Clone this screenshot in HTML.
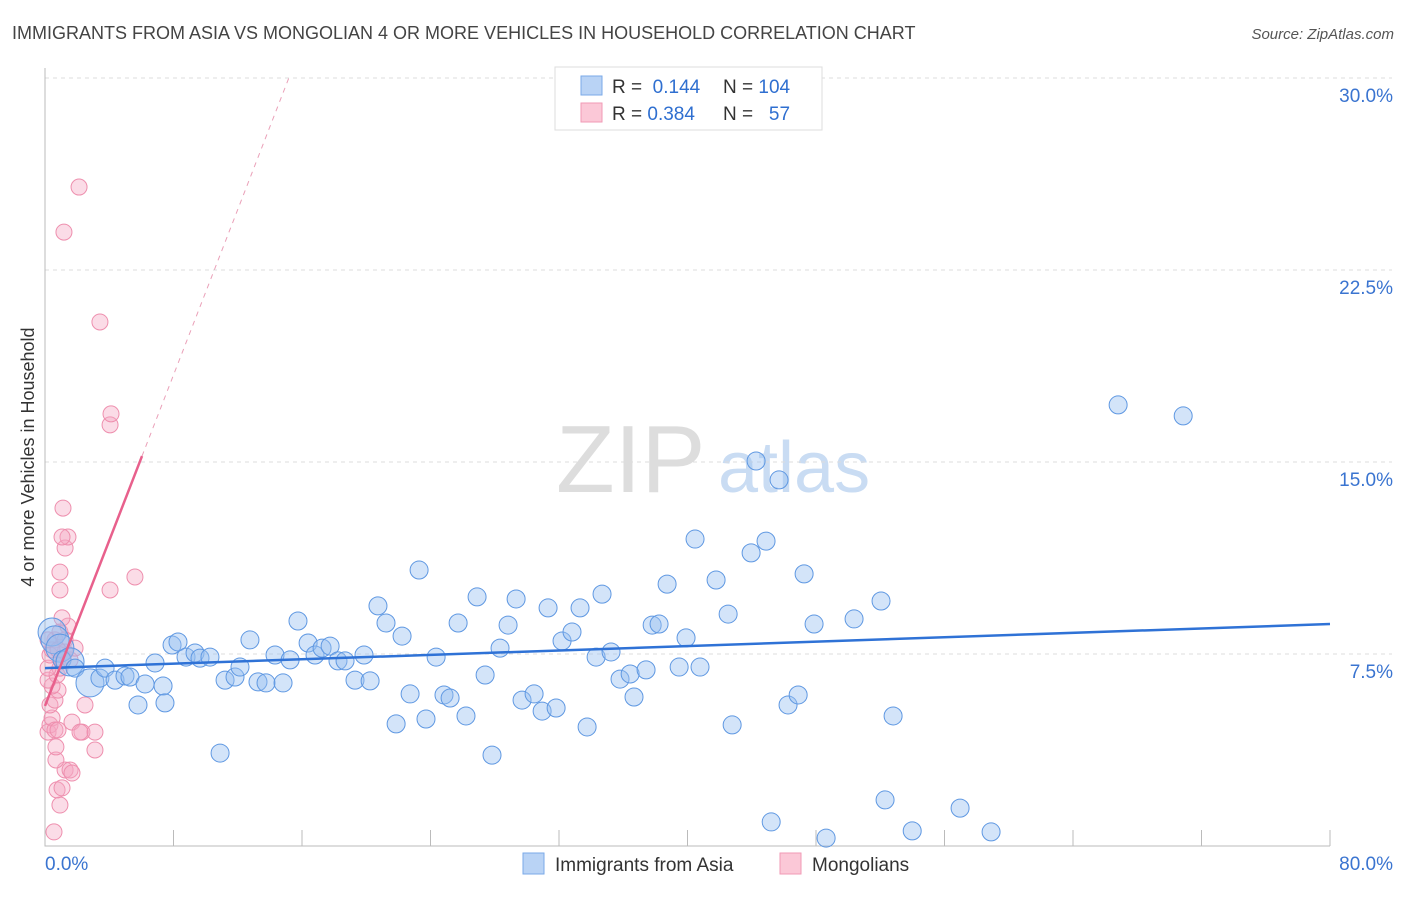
<!DOCTYPE html>
<html><head><meta charset="utf-8"><style>
body{margin:0;background:#fff;font-family:"Liberation Sans",sans-serif;}
svg text{font-family:"Liberation Sans",sans-serif;}
</style></head><body>
<svg id="c" width="1406" height="892">
<text x="12" y="39" font-size="18" fill="#444">IMMIGRANTS FROM ASIA VS MONGOLIAN 4 OR MORE VEHICLES IN HOUSEHOLD CORRELATION CHART</text>
<text x="1394" y="39" font-size="15" fill="#555" font-style="italic" text-anchor="end">Source: ZipAtlas.com</text>
<text transform="translate(34,457) rotate(-90)" font-size="18" fill="#333" text-anchor="middle">4 or more Vehicles in Household</text>
<text x="556" y="492" font-size="96" fill="#ddd" font-family="Liberation Serif">ZIP</text>
<text x="718" y="492" font-size="72" fill="#c9dcf3">atlas</text>
<g id="grid"></g><g id="pts"></g><g id="lines"></g>
<g>
<rect x="555" y="67" width="267" height="63" fill="#fff" stroke="#ddd"/>
<rect x="581" y="76" width="21" height="19" fill="#b9d3f5" stroke="#7aa9e8"/>
<rect x="581" y="103" width="21" height="19" fill="#fbc8d7" stroke="#f09ab6"/>
<text x="612" y="93" font-size="19" fill="#333">R = <tspan fill="#2f6fd0">&#160;0.144</tspan></text>
<text x="723" y="93" font-size="19" fill="#333">N = <tspan fill="#2f6fd0">104</tspan></text>
<text x="612" y="120" font-size="19" fill="#333">R = <tspan fill="#2f6fd0">0.384</tspan></text>
<text x="723" y="120" font-size="19" fill="#333">N = <tspan fill="#2f6fd0">&#160;&#160;57</tspan></text>
</g>
<g>
<rect x="523" y="853" width="21" height="21" fill="#b9d3f5" stroke="#7aa9e8"/>
<text x="555" y="871" font-size="19" fill="#333">Immigrants from Asia</text>
<rect x="780" y="853" width="21" height="21" fill="#fbc8d7" stroke="#f09ab6"/>
<text x="812" y="871" font-size="19" fill="#333">Mongolians</text>
</g>
<text x="45" y="870" font-size="19" fill="#3a74d0">0.0%</text>
<text x="1393" y="870" font-size="19" fill="#3a74d0" text-anchor="end">80.0%</text>
</svg>
<script>
const blueX=[0.44,0.62,0.93,1.06,1.56,1.87,2.80,3.42,3.74,4.36,4.98,5.29,6.23,6.85,7.35,7.47,7.91,8.28,8.78,9.34,9.65,10.27,11.21,11.83,12.14,12.76,13.26,13.76,14.32,14.82,15.26,15.75,16.38,16.81,17.25,17.75,18.24,18.68,19.30,19.86,20.24,20.73,21.23,21.86,22.23,22.73,23.29,23.72,24.35,24.84,25.22,25.72,26.21,26.90,27.40,27.83,28.33,28.83,29.33,29.70,30.45,30.95,31.32,31.82,32.19,32.81,33.31,33.75,34.31,34.68,35.24,35.80,36.43,36.67,37.42,37.80,38.23,38.73,39.48,39.91,40.47,40.78,41.78,42.53,42.78,43.96,44.27,44.89,45.21,45.70,46.26,46.89,47.26,47.88,48.63,50.37,52.05,52.30,52.80,53.99,56.97,58.90,66.81,70.86,10.90,5.79];
const blueY=[8.36,8.05,7.73,7.27,7.19,6.95,6.37,6.56,6.95,6.48,6.64,6.60,6.33,7.15,6.25,5.59,7.85,7.97,7.38,7.54,7.34,7.38,6.48,6.60,6.99,8.05,6.41,6.37,7.46,6.37,7.27,8.79,7.93,7.46,7.73,7.81,7.23,7.23,6.48,7.46,6.45,9.38,8.71,4.77,8.20,5.94,10.78,4.96,7.38,5.90,5.78,8.71,5.08,9.73,6.68,3.55,7.73,8.63,9.65,5.70,5.94,5.27,9.30,5.39,8.01,8.36,9.30,4.65,7.38,9.84,7.58,6.52,6.72,5.82,6.88,8.63,8.67,10.23,6.99,8.13,11.99,6.99,10.39,9.06,4.73,11.45,15.04,11.91,0.94,14.30,5.51,5.90,10.63,8.67,0.31,8.87,9.57,1.80,5.08,0.59,1.48,0.55,17.23,16.80,3.63,5.51];
const pinkX=[0.56,0.93,1.25,1.56,1.68,0.75,1.06,0.68,0.68,0.19,0.31,0.44,0.62,0.81,1.68,2.30,3.11,3.11,2.18,2.49,0.31,0.62,0.81,0.44,0.19,0.75,0.93,1.12,1.25,0.19,0.31,0.62,0.93,1.43,1.25,1.56,1.06,0.93,0.93,1.25,1.43,1.06,1.12,4.05,5.60,4.05,4.11,3.42,1.18,2.12,0.44,1.87,0.19,0.81];
const pinkY=[0.55,1.60,2.97,2.97,2.85,2.19,2.27,3.36,3.87,4.45,4.73,5.00,4.53,4.53,4.84,4.45,4.45,3.75,4.45,5.51,5.51,5.70,6.09,6.25,6.48,6.68,6.95,7.27,7.58,6.95,7.46,8.05,8.36,8.59,8.05,7.27,8.91,10.00,10.70,11.64,12.07,12.07,13.20,10.00,10.51,16.45,16.88,20.47,23.98,25.74,7.66,7.73,8.05,7.66];
const yTicks=[7.5,15,22.5,30];
const xTicks=[0,10,20,30,40,50,60,70,80];
const blueTrend=[6.95,8.67];
const pinkTrend=[5.47,1.616];
const NS='http://www.w3.org/2000/svg';
const X=v=>45+v*1285/80, Y=v=>846-v*192/7.5;
function mk(t,a,p){const e=document.createElementNS(NS,t);for(const k in a)e.setAttribute(k,a[k]);p.appendChild(e);return e;}
const g=document.getElementById('grid');
yTicks.forEach(t=>{
 const l=mk('line',{x1:45,x2:1392,y1:Y(t),y2:Y(t),stroke:'#ddd','stroke-dasharray':'4,4'},g);
 
 
 const tx=mk('text',{x:1393,y:Y(t)+24,'font-size':19,fill:'#3a74d0','text-anchor':'end'},g);
 tx.textContent=t.toFixed(1)+'%';
 
 
});
for(let i=0;i<=10;i++){const v=i*8;
 const l=mk('line',{x1:X(v),x2:X(v),y1:830,y2:846,stroke:'#bbb'},g);
 
 }
const ax=mk('path',{d:'M45,68V846H1330',fill:'none',stroke:'#bbb'},g);


const p=document.getElementById('pts');
pinkX.forEach((x,i)=>{const c=mk('circle',{cx:X(x),cy:Y(pinkY[i]),r:8,fill:'rgba(246,168,194,0.4)',stroke:'#ee8fae','stroke-width':1},p);
 
 });
blueX.forEach((x,i)=>{const c=mk('circle',{cx:X(x),cy:Y(blueY[i]),r:i<3||i==4||i==6?14:9,fill:'rgba(150,190,240,0.42)',stroke:'#5f98e2','stroke-width':1},p);
 
 });
const L=document.getElementById('lines');
const bl=mk('line',{x1:X(0),y1:Y(blueTrend[0]),x2:X(80),y2:Y(blueTrend[1]),stroke:'#2f72d6','stroke-width':2.5},L);


const xe=(30-pinkTrend[0])/pinkTrend[1];
const pl=mk('line',{x1:X(0),y1:Y(pinkTrend[0]),x2:X(6.04),y2:Y(pinkTrend[0]+pinkTrend[1]*6.04),stroke:'#e8608c','stroke-width':2.5},L);


const pd=mk('line',{x1:X(6.04),y1:Y(pinkTrend[0]+pinkTrend[1]*6.04),x2:X(xe),y2:Y(30),stroke:'#eaa0b8','stroke-width':1,'stroke-dasharray':'5,5'},L);


</script>
</body></html>
